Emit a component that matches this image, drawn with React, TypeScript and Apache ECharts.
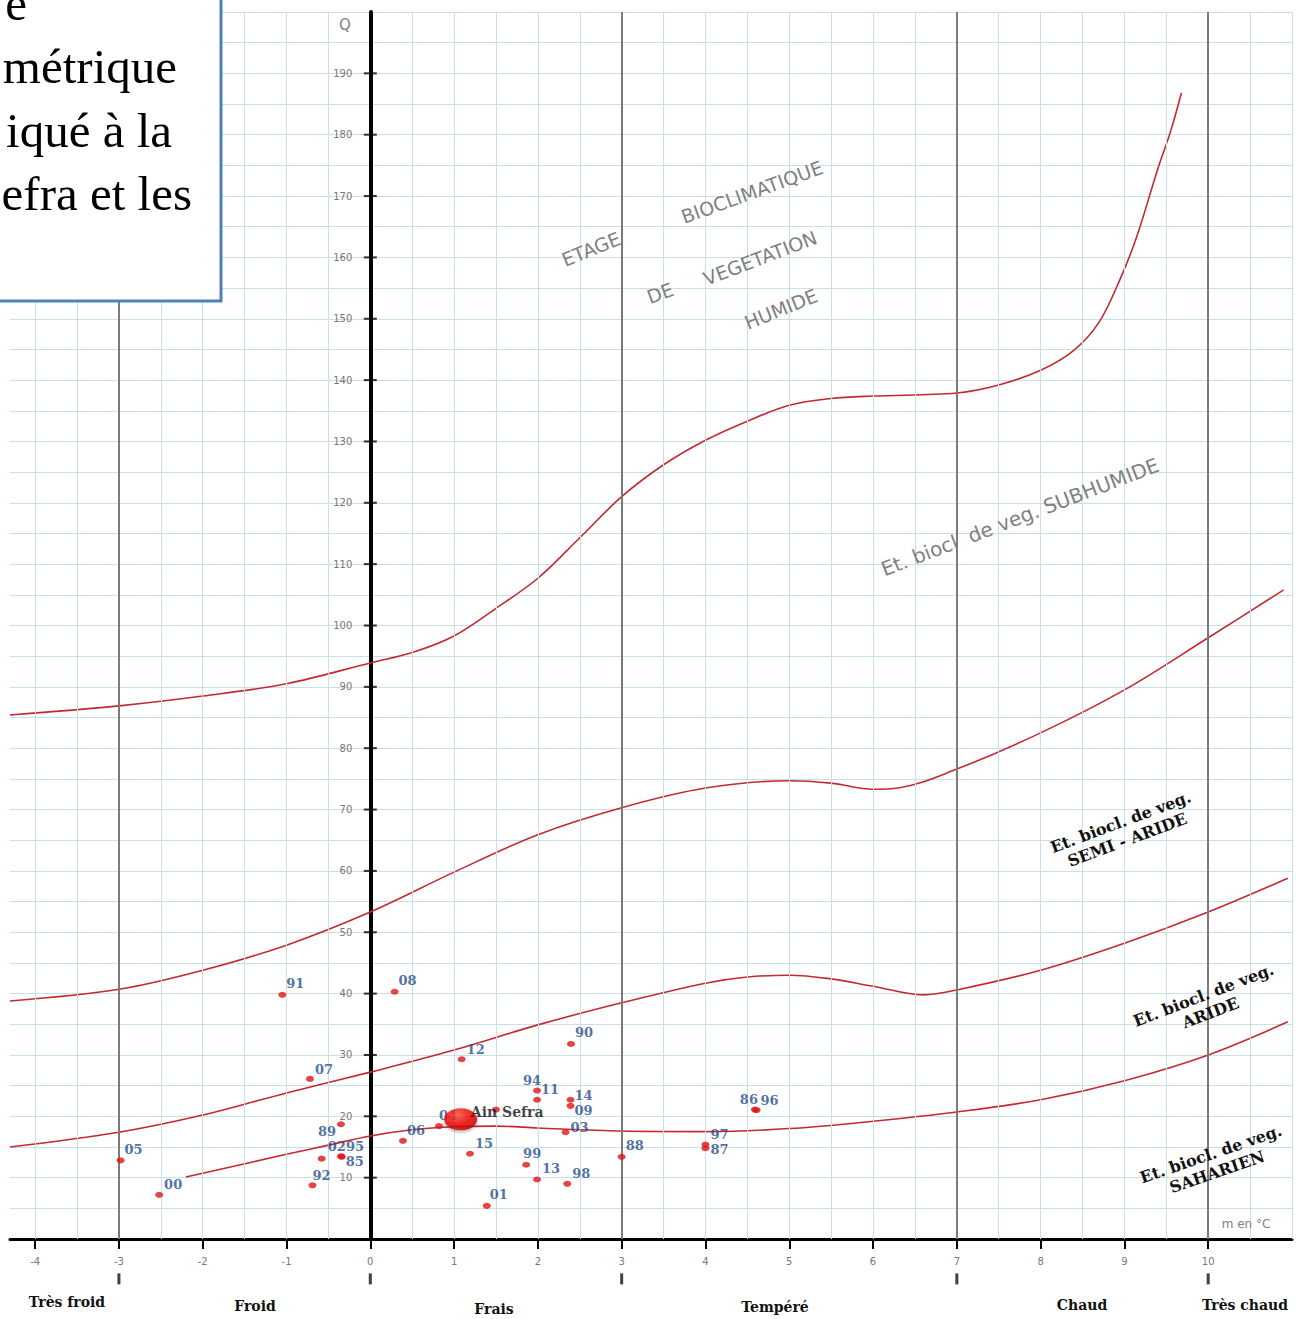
import React, { useEffect, useRef } from "react";
import * as echarts from "echarts";

// ---------- data ----------
const xTickValues = [-4, -3, -2, -1, 0, 1, 2, 3, 4, 5, 6, 7, 8, 9, 10];
const yTickValues = [10, 20, 30, 40, 50, 60, 70, 80, 90, 100, 110, 120, 130, 140, 150, 160, 170, 180, 190];
const zoneBounds = [-3, 0, 3, 7, 10];
const thermalLines = [-3, 3, 7, 10];
const gridXValues = [-4, -3.5, -2.5, -2, -1.5, -1, -0.5, 0.5, 1, 1.5, 2, 2.5, 3.5, 4, 4.5, 5, 5.5, 6, 6.5, 7.5, 8, 8.5, 9, 9.5, 10.5, 11];
const zoneNames = ["Très froid", "Froid", "Frais", "Tempéré", "Chaud", "Très chaud"];

const curveHumide: [number, number][] = [
  [-4.3, 85.4], [-3, 86.9], [-2, 88.5], [-1, 90.5], [0, 93.9], [0.5, 95.6], [1, 98.3],
  [1.5, 102.8], [2, 107.7], [2.5, 114.3], [3, 121], [3.5, 126.2], [4, 130.2], [4.5, 133.3], [5, 135.9],
  [5.5, 137], [6, 137.4], [7, 137.9], [7.5, 139.2], [8, 141.6], [8.4, 144.9], [8.7, 149.5], [8.95, 156.5],
  [9.15, 163.5], [9.4, 174.5], [9.55, 180.5], [9.68, 186.8],
];
const curveSubhumide: [number, number][] = [
  [-4.3, 38.8], [-3, 40.7], [-2, 43.8], [-1, 47.9], [0, 53.3], [1, 59.8], [2, 65.9], [3, 70.3], [4, 73.5],
  [5, 74.7], [5.5, 74.3], [6, 73.3], [6.3, 73.5], [7, 76.6], [8, 82.5], [9, 89.5], [10, 98.0], [10.9, 105.8],
];
const curveSemiAride: [number, number][] = [
  [-4.3, 15.0], [-3, 17.4], [-2, 20.2], [-1, 23.8], [0, 27.2], [1, 30.8], [2, 34.9], [3, 38.5], [4, 41.7],
  [4.5, 42.7], [5, 43.0], [5.5, 42.4], [6, 41.2], [6.6, 39.8], [7, 40.6], [8, 43.8], [9, 48.2], [10, 53.3], [10.95, 58.8],
];
const curveAride: [number, number][] = [
  [-2.2, 10.1], [-1, 13.8], [-0.5, 15.3], [0, 16.8], [0.5, 17.8], [1, 18.3], [1.5, 18.4], [2, 18.1], [3, 17.6],
  [4, 17.5], [5, 18.0], [6, 19.2], [7, 20.7], [8, 22.7], [9, 25.8], [10, 30.0], [10.95, 35.4],
];

const stationYears = ["91", "08", "07", "89", "02", "95", "85", "92", "05", "00", "06", "04", "12", "90", "94", "11", "14", "09", "", "03", "15", "99", "13", "98", "01", "88", "97", "87", "86", "96"];
const stationM = [-1.05, 0.29, -0.72, -0.35, -0.58, -0.35, -0.34, -0.69, -2.98, -2.52, 0.39, 0.82, 1.09, 2.395, 1.99, 1.99, 2.39, 2.39, 1.5, 2.33, 1.19, 1.86, 1.99, 2.35, 1.39, 3.0, 4.0, 4.0, 4.59, 4.61];
const stationQ = [39.8, 40.3, 26.1, 18.7, 13.1, 13.5, 13.4, 8.75, 12.8, 7.2, 16.0, 18.4, 29.3, 31.8, 24.2, 22.7, 22.7, 21.7, 21.1, 17.4, 13.9, 12.1, 9.7, 9.0, 5.4, 13.4, 15.4, 14.8, 21.1, 21.0];

const ainSefraM = 1.08;
const ainSefraQ = 19.5;

// ---------- styles (kept apart from the data) ----------
const labelOffsets: [number, number][] = [
  [13, -11], [13, -11], [14, -9], [-14, 7], [15, -12], [14, -10], [13, 5], [9, -10], [13, -11], [14, -10],
  [13, -10], [9, -11], [14, -10], [13, -11], [-5, -10], [13, -10], [13, -4], [13, 5], [0, 0], [14, -5],
  [14, -10], [6, -11], [14, -11], [14, -10], [12, -11], [13, -11], [14, -10], [14, 1], [-6, -10], [13, -10],
];

const GRID_COLOR = "#c9e0e8";
const CURVE_COLOR = "#c22a30";
const LABEL_BLUE = "#1f4e8c";
const GREY_TXT = "#808080";
const deg = (d: number) => (d * Math.PI) / 180;

const X_MIN = -4.3;
const X_MAX = 11;
const GRID_LEFT = 10;
const GRID_WIDTH = 1282;
const ZERO_OFFSET = ((0 - X_MIN) / (X_MAX - X_MIN)) * GRID_WIDTH;

function buildOption(): any {
  const curve = (name: string, data: [number, number][]) => ({
    name,
    type: "line",
    data,
    smooth: 0.35,
    showSymbol: false,
    symbol: "none",
    silent: true,
    lineStyle: { color: CURVE_COLOR, width: 1.6 },
    z: 3,
  });

  const stations = stationYears.map((y, i) => ({
    name: y,
    value: [stationM[i], stationQ[i]],
    label: { offset: labelOffsets[i] },
  }));

  const greyText = (text: string, x: number, y: number, rot: number, size = 19) => ({
    type: "text",
    x,
    y,
    rotation: deg(rot),
    z: 50,
    silent: true,
    style: {
      text,
      fill: GREY_TXT,
      font: `${size}px "DejaVu Sans"`,
      textAlign: "center",
      textVerticalAlign: "middle",
    },
  });
  const boldBlock = (text: string, x: number, y: number, rot: number) => ({
    type: "text",
    x,
    y,
    rotation: deg(rot),
    z: 50,
    silent: true,
    style: {
      text,
      fill: "#111",
      font: `bold 16px "DejaVu Serif"`,
      lineHeight: 19,
      textAlign: "center",
      textVerticalAlign: "middle",
    },
  });
  const boxLine = (text: string, x: number, y: number) => ({
    type: "text",
    x,
    y,
    z: 101,
    silent: true,
    style: {
      text,
      fill: "#000",
      font: `49px "Liberation Serif"`,
      textAlign: "right",
      textVerticalAlign: "middle",
    },
  });
  const zonePx: [number, number][] = [[67, 1302], [255, 1306], [494, 1309], [775, 1307], [1082, 1305], [1245, 1305]];

  return {
    animation: false,
    backgroundColor: "#ffffff",
    grid: { left: GRID_LEFT, top: 12, width: GRID_WIDTH, height: 1227, containLabel: false, outerBoundsMode: "none" },
    xAxis: [
      {
        type: "value",
        min: X_MIN,
        max: X_MAX,
        position: "bottom",
        axisLine: { show: true, onZero: false, lineStyle: { color: "#000", width: 3 } },
        axisTick: { show: true, customValues: xTickValues, length: 10, lineStyle: { color: "#000", width: 2 } },
        axisLabel: { show: true, customValues: xTickValues, margin: 17, color: "#777", fontSize: 10, fontFamily: "DejaVu Sans" },
        splitLine: { show: false },
      },
    ],
    yAxis: [
      {
        type: "value",
        min: 0,
        max: 200,
        interval: 10,
        position: "left",
        offset: -ZERO_OFFSET,
        axisLine: { show: true, onZero: false, lineStyle: { color: "#000", width: 4 } },
        axisTick: { show: false },
        axisLabel: {
          show: true,
          margin: 18,
          color: "#777",
          fontSize: 10,
          fontFamily: "DejaVu Sans",
          formatter: (v: number) => (v > 0 && v < 200 ? String(v) : ""),
        },
        splitLine: { show: true, lineStyle: { color: GRID_COLOR, width: 1 } },
        minorTick: { show: false, splitNumber: 2 },
        minorSplitLine: { show: true, lineStyle: { color: GRID_COLOR, width: 1 } },
      },
    ],
    series: [
      {
        name: "vgrid",
        type: "line",
        data: [],
        silent: true,
        z: 1,
        markLine: {
          silent: true,
          symbol: ["none", "none"],
          label: { show: false },
          lineStyle: { color: GRID_COLOR, width: 1, type: "solid" },
          emphasis: { disabled: true },
          data: gridXValues.map((v) => ({ xAxis: v })),
        },
      },
      {
        name: "thermal",
        type: "line",
        data: [],
        silent: true,
        z: 2,
        markLine: {
          silent: true,
          symbol: ["none", "none"],
          label: { show: false },
          lineStyle: { color: "#7a7a7a", width: 2, type: "solid" },
          emphasis: { disabled: true },
          data: thermalLines.map((v) => ({ xAxis: v })),
        },
      },
      curve("humide", curveHumide),
      curve("subhumide", curveSubhumide),
      curve("semiAride", curveSemiAride),
      curve("aride", curveAride),
      {
        name: "qTicks",
        type: "scatter",
        symbol: "rect",
        symbolSize: [13, 2],
        silent: true,
        itemStyle: { color: "#000" },
        data: yTickValues.map((v) => [0, v]),
        z: 4,
      },
      {
        name: "zoneBars",
        type: "scatter",
        symbol: "rect",
        symbolSize: [3, 11],
        silent: true,
        clip: false,
        itemStyle: { color: "#111" },
        data: zoneBounds.map((v) => [v, -6.5]),
        z: 4,
      },
      {
        name: "stations",
        type: "scatter",
        symbol: "circle",
        symbolSize: [8, 6],
        silent: true,
        itemStyle: { color: "#e01414" },
        label: {
          show: true,
          position: "inside",
          formatter: "{b}",
          color: LABEL_BLUE,
          fontFamily: "DejaVu Serif",
          fontWeight: "bold",
          fontSize: 13,
        },
        data: stations,
        z: 5,
      },
      {
        name: "Ain Sefra",
        type: "scatter",
        symbol: "circle",
        symbolSize: [33, 22],
        silent: true,
        itemStyle: {
          color: new echarts.graphic.RadialGradient(0.4, 0.3, 0.75, [
            { offset: 0, color: "#ff5040" },
            { offset: 0.55, color: "#f00000" },
            { offset: 1, color: "#b80000" },
          ]),
          shadowBlur: 3,
          shadowColor: "rgba(0,0,0,0.35)",
          shadowOffsetY: 2,
        },
        label: {
          show: true,
          position: "inside",
          align: "left",
          offset: [10, -7],
          formatter: "Ain Sefra",
          color: "#111",
          fontFamily: "DejaVu Serif",
          fontWeight: "bold",
          fontSize: 14,
        },
        data: [{ name: "Ain Sefra", value: [ainSefraM, ainSefraQ] }],
        z: 6,
      },
    ],
    graphic: [
      greyText("ETAGE", 591, 249, 22),
      greyText("BIOCLIMATIQUE", 752, 192, 20),
      greyText("DE", 660, 293, 20),
      greyText("VEGETATION", 760, 258, 21),
      greyText("HUMIDE", 781, 309, 22),
      greyText("Et. biocl  de veg. SUBHUMIDE", 1020, 517, 21, 20),
      boldBlock("Et. biocl. de veg.\nSEMI - ARIDE", 1124, 831, 20.5),
      boldBlock("Et. biocl. de veg.\nARIDE", 1207, 1004, 21),
      boldBlock("Et. biocl. de veg.\nSAHARIEN", 1214, 1163, 19),
      greyText("m en °C", 1246, 1224, 0, 12),
      greyText("Q", 345, 25, 0, 15),
      ...zoneNames.map((n, i) => ({
        type: "text",
        x: zonePx[i][0],
        y: zonePx[i][1],
        z: 50,
        silent: true,
        style: { text: n, fill: "#111", font: `bold 14px "DejaVu Serif"`, textAlign: "center", textVerticalAlign: "middle" },
      })),
      {
        type: "rect",
        shape: { x: -10, y: -10, width: 231, height: 311 },
        z: 100,
        silent: true,
        style: { fill: "#ffffff", stroke: "#4f81bd", lineWidth: 3 },
      },
      boxLine("e", 27, 3.5),
      boxLine("métrique", 177, 66.5),
      boxLine("iqué à la", 172, 130.5),
      boxLine("efra et les", 192, 193.5),
    ],
  };
}

export default function App() {
  const ref = useRef<HTMLDivElement>(null);
  useEffect(() => {
    if (!ref.current) return;
    const chart = echarts.init(ref.current, null, { renderer: "svg" });
    chart.setOption(buildOption());
    return () => chart.dispose();
  }, []);
  return (
    <div
      ref={ref}
      style={{ position: "absolute", left: 0, top: 0, width: 1297, height: 1319, background: "#fff" }}
    />
  );
}
